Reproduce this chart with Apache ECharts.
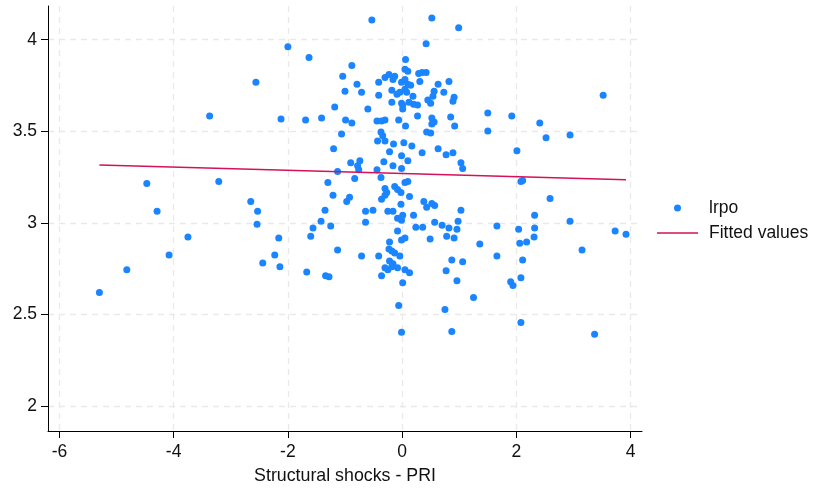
<!DOCTYPE html>
<html>
<head>
<meta charset="utf-8">
<script src="https://cdn.jsdelivr.net/npm/echarts@6/dist/echarts.min.js"></script>
<style>
html,body{margin:0;padding:0;background:#fff;}
#chart{width:813px;height:490px;}
</style>
</head>
<body>
<div id="chart"></div>
<script>
// Structural shocks - PRI (x) and lrpo (y)
const shockX = [
 -0.53,0.52,0.99,0.42,-2.00,-1.63,0.06,-0.88,-1.04,-2.56,
 -0.79,-1.00,-0.71,-0.41,-0.41,-0.30,-0.23,-0.16,-0.13,-0.18,
 -0.09,-0.01,0.05,0.10,0.05,0.10,0.15,-0.04,0.19,0.29,
 0.35,0.42,0.31,0.63,0.82,0.73,0.56,0.54,0.45,0.50,
 0.91,0.89,-0.18,-0.01,0.12,0.20,0.27,0.01,0.01,-0.60,
 -1.18,0.27,0.85,-0.99,-0.88,-0.44,-0.36,-0.30,-0.06,0.06,
 0.52,0.56,0.52,0.92,-1.06,-0.37,-0.34,-0.43,-0.30,0.43,
 0.50,-0.15,0.03,0.17,-1.20,-0.22,0.35,0.63,0.77,0.89,
 -0.01,-0.32,0.10,-0.90,-0.74,-0.78,-0.76,-0.16,-0.01,-0.44,
 1.03,1.06,-1.13,-0.83,-0.37,0.05,0.10,-0.30,-0.27,-0.30,
 -0.36,-0.13,-0.08,-0.02,-1.30,-3.21,-3.37,-4.47,-4.29,-2.12,
 -1.69,-1.41,-1.21,-0.97,-0.92,0.13,-0.02,0.38,0.43,0.52,
 0.57,-0.64,-0.51,-0.25,-0.16,0.01,-0.08,-0.01,0.20,1.03,
 -0.64,-1.25,0.24,0.36,0.57,0.70,0.82,0.98,0.96,-0.08,
 0.49,0.78,0.91,-0.01,0.05,-0.22,-1.13,-0.71,-0.41,-0.23,
 -0.18,-0.13,-0.04,-0.22,-0.16,-0.30,-0.25,-0.18,-0.08,0.05,
 0.13,-0.36,0.01,0.87,1.06,0.77,0.96,-1.34,-1.28,-0.06,
 0.75,-0.01,0.87,1.25,1.36,1.66,1.66,2.04,2.32,2.31,
 2.06,2.18,2.11,2.08,1.90,1.94,2.08,3.37,3.15,2.94,
 3.73,3.92,2.59,2.32,2.08,2.11,2.01,2.52,2.94,2.41,
 1.50,1.50,1.92,3.52,-5.30,-4.82,-4.08,-3.75,-2.65,-2.53,
 -2.54,-2.16,-2.23,-2.44,-2.14,-1.67,-1.42,-1.56,-1.60,-1.35,
 0.05,0.08
];
const lrpo = [
 4.108,4.119,4.065,3.978,3.962,3.903,3.892,3.859,3.800,3.767,
 3.756,3.718,3.713,3.767,3.697,3.794,3.810,3.783,3.800,3.724,
 3.702,3.767,3.838,3.827,3.729,3.756,3.751,3.713,3.691,3.816,
 3.821,3.821,3.772,3.756,3.772,3.713,3.718,3.691,3.670,3.653,
 3.686,3.664,3.659,3.653,3.659,3.648,3.643,3.643,3.621,3.621,
 3.632,3.583,3.578,3.561,3.545,3.556,3.556,3.561,3.561,3.529,
 3.572,3.550,3.540,3.529,3.485,3.496,3.475,3.447,3.447,3.496,
 3.491,3.431,3.437,3.420,3.404,3.388,3.382,3.404,3.372,3.382,
 3.366,3.334,3.339,3.328,3.339,3.312,3.290,3.312,3.296,3.290,
 3.328,3.296,3.280,3.242,3.247,3.220,3.225,3.187,3.166,3.150,
 3.128,3.198,3.182,3.166,3.220,3.225,3.583,3.215,3.063,3.567,
 3.561,3.572,3.150,3.117,3.139,3.144,3.101,3.117,3.085,3.106,
 3.095,3.063,3.068,3.063,3.063,3.041,3.025,3.014,3.041,3.068,
 3.003,2.982,2.976,2.976,3.003,2.987,2.971,3.009,2.965,2.955,
 2.911,2.927,2.917,2.906,2.917,2.895,2.852,2.819,2.819,2.857,
 2.846,2.835,2.819,2.792,2.776,2.754,2.743,2.760,2.754,2.743,
 2.727,2.711,2.673,2.797,2.787,2.738,2.684,2.711,2.705,2.548,
 2.527,2.402,2.407,2.592,2.884,2.982,2.819,2.965,2.971,2.922,
 2.889,2.895,2.797,2.700,2.678,2.657,2.456,2.391,2.852,3.009,
 2.955,2.938,3.133,3.041,3.225,3.231,3.393,3.464,3.480,3.545,
 3.599,3.502,3.583,3.697,2.619,2.743,2.824,2.922,3.117,3.063,
 2.992,2.917,2.824,2.781,2.760,2.732,3.009,2.971,2.927,3.068,
 3.783,3.713
];
// Fitted values (linear fit) end points
const fitX = [-5.30, 3.92];
const fitY = [3.316, 3.235];
// Tick labels
const xTicks = [-6, -4, -2, 0, 2, 4];
const yTicks = [2, 2.5, 3, 3.5, 4];

const FONT = 'Liberation Sans, Arial, sans-serif';
const scatterData = shockX.map((x, i) => [x, lrpo[i]]);
const fitData = fitX.map((x, i) => [x, fitY[i]]);

const chart = echarts.init(document.getElementById('chart'), null, {renderer: 'canvas'});
const gridLine = {show: true, lineStyle: {color: '#e9e9e9', width: 1.3, type: [6, 5]}};
chart.setOption({
  animation: false,
  backgroundColor: '#ffffff',
  grid: {left: 48, right: 171, top: 6, bottom: 56, containLabel: false},
  legend: {
    orient: 'vertical', left: 657, top: 199, padding: 0,
    itemWidth: 41, itemHeight: 7, itemGap: 7,
    textStyle: {fontSize: 17.5, color: '#111', fontFamily: FONT, lineHeight: 18, padding: [0, 0, 0, 6]},
    data: [
      {name: 'lrpo', icon: 'circle'},
      {name: 'Fitted values', icon: 'path://M0,0H82V3H0Z'}
    ]
  },
  xAxis: {
    type: 'value', min: -6.2, max: 4.2,
    name: 'Structural shocks - PRI', nameLocation: 'middle', nameGap: 36,
    nameTextStyle: {fontSize: 17.8, color: '#111', fontFamily: FONT},
    axisLine: {show: true, onZero: false, lineStyle: {color: '#000', width: 1}},
    axisTick: {show: true, length: 7, customValues: xTicks, lineStyle: {color: '#000', width: 1}},
    axisLabel: {customValues: xTicks, margin: 12, fontSize: 17.5, color: '#111', fontFamily: FONT},
    splitLine: gridLine
  },
  yAxis: {
    type: 'value', min: 1.863, max: 4.184,
    axisLine: {show: true, onZero: false, lineStyle: {color: '#000', width: 1}},
    axisTick: {show: true, length: 7, customValues: yTicks, lineStyle: {color: '#000', width: 1}},
    axisLabel: {customValues: yTicks, margin: 11, fontSize: 17.5, color: '#111', fontFamily: FONT},
    splitLine: gridLine
  },
  series: [
    {
      name: 'lrpo', type: 'scatter', data: scatterData,
      symbol: 'circle', symbolSize: 7,
      itemStyle: {color: '#1a85ff', opacity: 1},
      z: 2
    },
    {
      name: 'Fitted values', type: 'line', data: fitData,
      symbol: 'none', showSymbol: false,
      lineStyle: {color: '#d41159', width: 1.5},
      itemStyle: {color: '#d41159'},
      z: 3
    }
  ]
});
</script>
</body>
</html>
